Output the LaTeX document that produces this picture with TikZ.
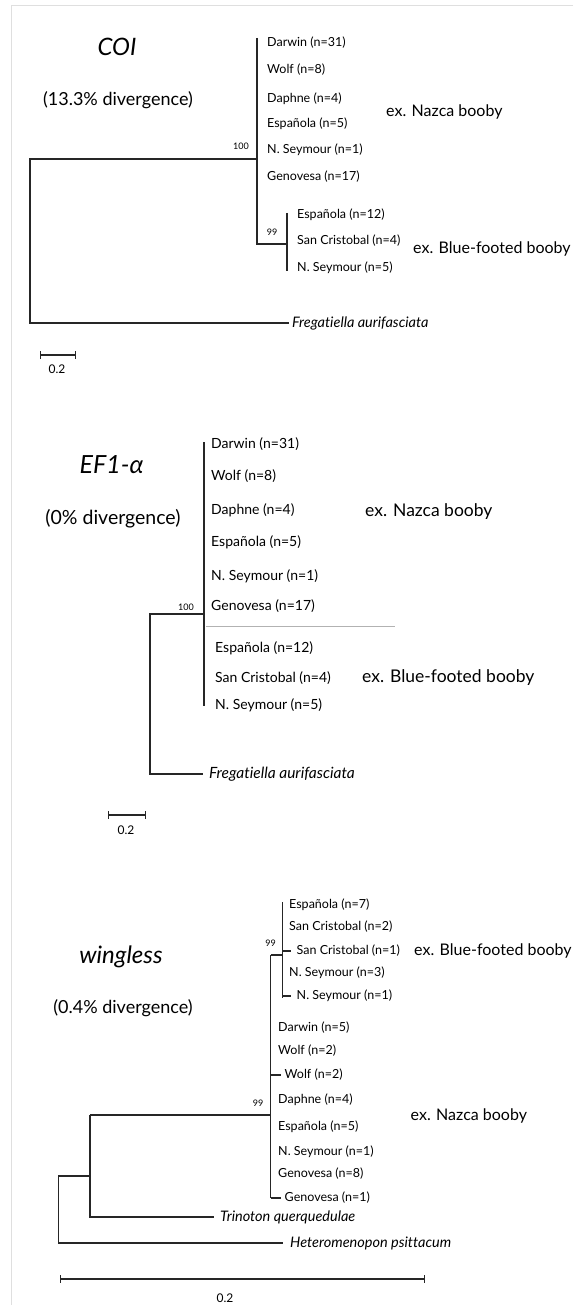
\documentclass[tikz,border=0pt]{standalone}
\usepackage{fontspec}
\setmainfont{Lato}[Ligatures=NoCommon]
\usetikzlibrary{calc}

\tikzset{
  branch/.style={line width=1.2pt, black!85},
  tip/.style={anchor=west, inner sep=0pt, font=\fontsize{12.5}{14}\selectfont},
  bigtip/.style={anchor=west, inner sep=0pt, font=\fontsize{14}{16}\selectfont},
  taxon/.style={anchor=west, inner xsep=3pt, inner ysep=0pt, font=\fontsize{14.5}{16}\selectfont\itshape},
  bigtaxon/.style={taxon, font=\fontsize{15.5}{17}\selectfont\itshape},
  boot/.style={inner sep=0pt, font=\fontsize{9}{10}\selectfont},
  scalelbl/.style={inner sep=0pt, font=\fontsize{12}{14}\selectfont},
  clade/.style={anchor=west, inner sep=0pt, font=\fontsize{16}{18}\selectfont},
  bigclade/.style={clade, font=\fontsize{17.5}{20}\selectfont},
  gene/.style={inner sep=0pt, font=\fontsize{24}{28}\selectfont\itshape},
  div/.style={inner sep=0pt, font=\fontsize{18}{21}\selectfont},
  scalebar/.style={line width=1.2pt, black!85, |-|},
}

\begin{document}
\begin{tikzpicture}[x=1pt, y=-1pt]
\useasboundingbox (0,0) rectangle (573,1305);
% frame
\draw[gray!25, line width=0.8pt] (573,5.3) -- (11.7,5.3) -- (11.7,1305);

% ---- COI ----
\node[gene] (coiname) at (117,47) {COI};
\node[div] (coidiv) at (118,100) {(13.3\% divergence)};
\coordinate (coiroot) at (30,159);
\coordinate (coiN) at (257,159);
\coordinate (coiNtop) at (257,38);
\coordinate (coiNbot) at (257,244);
\coordinate (coiB) at (287,244);
\coordinate (coiBtop) at (287,213);
\coordinate (coiBbot) at (287,271);
\draw[branch] (coiNtop) -- (coiNbot) -- (coiB);
\draw[branch] (coiBtop) -- (coiBbot);
\node[taxon] (coifreg) at (289,323) {Fregatiella aurifasciata};
\draw[branch] (coiN) -- (coiroot) |- (coifreg.west);
\node[boot] (coib1) at (241,146) {100};
\node[boot] (coib2) at (272,232) {99};
\foreach \t/\y [count=\i] in {Darwin (n=31)/43, Wolf (n=8)/70, Daphne (n=4)/99,
    Española (n=5)/124, N. Seymour (n=1)/150, Genovesa (n=17)/177}
  \node[tip] (coin\i) at (267,\y) {\t};
\foreach \t/\y [count=\i] in {Española (n=12)/215, San Cristobal (n=4)/241, N. Seymour (n=5)/268}
  \node[tip] (coib\i) at (297,\y) {\t};
\node[clade] (coinazca) at (386,112) {ex. Nazca booby};
\node[clade] (coiblue) at (413,249) {ex. Blue-footed booby};
\coordinate (coisa) at (40,355);
\coordinate (coisb) at (76,355);
\draw[scalebar] (coisa) -- (coisb);
\node[scalelbl] (coiscale) at (57,369) {0.2};

% ---- EF1-alpha ----
\node[gene, font=\fontsize{25}{29}\selectfont\itshape] (efname) at (111.5,465) {EF1-α};
\node[div, font=\fontsize{19.5}{22}\selectfont] (efdiv) at (113,519) {(0\% divergence)};
\coordinate (efroot) at (150,614);
\coordinate (efN) at (204,614);
\coordinate (efNtop) at (204,442);
\coordinate (efNbot) at (204,706);
\draw[branch] (efNtop) -- (efNbot);
\node[bigtaxon, inner xsep=6pt] (effreg) at (203,774) {Fregatiella aurifasciata};
\draw[branch] (efN) -- (efroot) |- (effreg.west);
\coordinate (efsplitA) at (206,626);
\coordinate (efsplitB) at (395,626);
\draw[gray!60, line width=1pt] (efsplitA) -- (efsplitB);
\node[boot] (efb1) at (186,607) {100};
\foreach \t/\y [count=\i] in {Darwin (n=31)/444, Wolf (n=8)/476, Daphne (n=4)/510,
    Española (n=5)/542, N. Seymour (n=1)/576, Genovesa (n=17)/606}
  \node[bigtip] (efn\i) at (211,\y) {\t};
\foreach \t/\y [count=\i] in {Española (n=12)/648, San Cristobal (n=4)/678, N. Seymour (n=5)/705}
  \node[bigtip] (efb\i) at (215,\y) {\t};
\node[bigclade] (efnazca) at (365,512) {ex. Nazca booby};
\node[bigclade] (efblue) at (362,678) {ex. Blue-footed booby};
\coordinate (efsa) at (108,815);
\coordinate (efsb) at (146,815);
\draw[scalebar] (efsa) -- (efsb);
\node[scalelbl] (efscale) at (126,830) {0.2};

% ---- wingless ----
\node[gene] (wgname) at (121,957) {wingless};
\node[div] (wgdiv) at (123,1008) {(0.4\% divergence)};
\coordinate (wgroot) at (58.5,1176);
\coordinate (wgL) at (90,1176);
\coordinate (wgLtop) at (90,1115);
\coordinate (wgN) at (270.5,1115);
\coordinate (wgNtop) at (270.5,955);
\coordinate (wgNbot) at (270.5,1198);
\coordinate (wgB) at (282.5,955);
\coordinate (wgBtop) at (282.5,902);
\coordinate (wgBbot) at (282.5,998);
\draw[branch] (wgLtop) -- (wgN);
\draw[branch] (wgNtop) -- (wgNbot);
\draw[branch] (wgNtop) -- (wgB);
\draw[branch] (wgBtop) -- (wgBbot);
\node[taxon, inner xsep=6pt] (wgtrin) at (214,1217) {Trinoton querquedulae};
\node[taxon, inner xsep=7pt] (wghete) at (283,1243) {Heteromenopon psittacum};
\draw[branch] (wgLtop) |- (wgtrin.west);
\draw[branch] (wgL) -- (wgroot) |- (wghete.west);
\node[boot] (wgb1) at (270.5,943) {99};
\node[boot] (wgb2) at (258,1103) {99};
% blue-footed tips
\node[tip] (wgb1t) at (289,905) {Española (n=7)};
\node[tip] (wgb2t) at (289,927) {San Cristobal (n=2)};
\node[tip, inner xsep=6pt] (wgb3t) at (290.5,951) {San Cristobal (n=1)};
\node[tip] (wgb4t) at (289,973) {N. Seymour (n=3)};
\node[tip, inner xsep=6pt] (wgb5t) at (290.5,996) {N. Seymour (n=1)};
\draw[branch] (282.5,951) -- (wgb3t.west);
\draw[branch] (282.5,997) |- (wgb5t.west);
% nazca tips
\foreach \t/\y [count=\i] in {Darwin (n=5)/1028, Wolf (n=2)/1051, Daphne (n=4)/1100,
    Española (n=5)/1127, N. Seymour (n=1)/1152, Genovesa (n=8)/1174}
  \node[tip] (wgn\i) at (278,\y) {\t};
\node[tip, inner xsep=4pt] (wgwolf) at (280.5,1075) {Wolf (n=2)};
\node[tip, inner xsep=4pt] (wggeno) at (280.5,1198) {Genovesa (n=1)};
\draw[branch] (270.5,1075) -- (wgwolf.west);
\draw[branch] (wgNbot) -- (wggeno.west);
\node[clade] (wgblue) at (414,951) {ex. Blue-footed booby};
\node[clade] (wgnazca) at (410.5,1116) {ex. Nazca booby};
\coordinate (wgsa) at (59.6,1279);
\coordinate (wgsb) at (425,1279);
\draw[scalebar] (wgsa) -- (wgsb);
\node[scalelbl] (wgscale) at (225,1298) {0.2};
\end{tikzpicture}
\end{document}
